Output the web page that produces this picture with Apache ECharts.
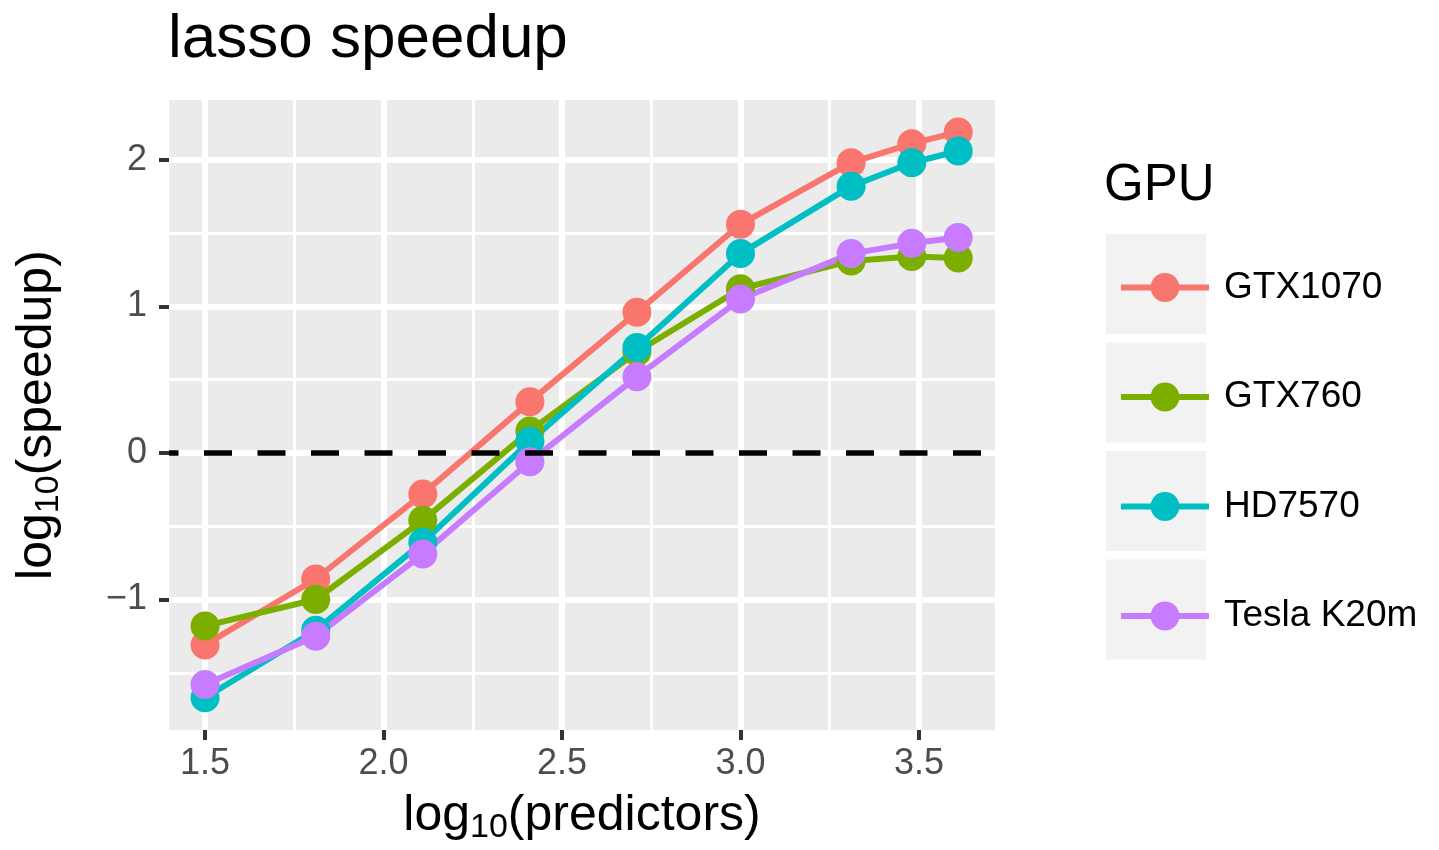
<!DOCTYPE html>
<html>
<head>
<meta charset="utf-8">
<script src="https://cdn.jsdelivr.net/npm/echarts@6/dist/echarts.min.js"></script>
<style>
  html, body { margin: 0; padding: 0; background: #fff; }
  #lasso_speedup { width: 1439px; height: 850px; }
</style>
</head>
<body>
<div id="lasso_speedup"></div>
<script>
    // log10(predictors)
    const predictors = [1.5, 1.81, 2.11, 2.41, 2.71, 3.0, 3.31, 3.48, 3.61];
    // log10(speedup) per GPU
    const gtx1070 = [-1.31, -0.86, -0.28, 0.35, 0.96, 1.56, 1.98, 2.11, 2.19];
    const gtx760 = [-1.18, -1.0, -0.46, 0.15, 0.69, 1.12, 1.31, 1.34, 1.33];
    const hd7570 = [-1.67, -1.21, -0.61, 0.08, 0.72, 1.36, 1.82, 1.98, 2.06];
    const teslaK20m = [-1.58, -1.25, -0.69, -0.06, 0.52, 1.05, 1.36, 1.43, 1.47];

    const gpuNames = ['GTX1070', 'GTX760', 'HD7570', 'Tesla K20m'];
    const gpuColors = ['#F8766D', '#7CAE00', '#00BFC4', '#C77CFF'];
    const gpuValues = [gtx1070, gtx760, hd7570, teslaK20m];

    const xTicks = [1.5, 2.0, 2.5, 3.0, 3.5];
    const xMinorTicks = [1.75, 2.25, 2.75, 3.25];
    const yTicks = [-1, 0, 1, 2];
    const yMinorTicks = [-1.5, -0.5, 0.5, 1.5];

    const xRange = [1.399, 3.713];
    const yRange = [-1.891, 2.408];

    const FONT = '"Liberation Sans", Arial, Helvetica, sans-serif';

    const chart = echarts.init(document.getElementById('lasso_speedup'));

    const series = gpuNames.map((name, i) => ({
        name: name,
        type: 'line',
        xAxisIndex: 0,
        yAxisIndex: 0,
        data: predictors.map((x, j) => [x, gpuValues[i][j]]),
        symbol: 'circle',
        symbolSize: 29,
        showSymbol: true,
        color: gpuColors[i],
        lineStyle: { width: 6, color: gpuColors[i] },
        itemStyle: { color: gpuColors[i] },
        emphasis: { disabled: true },
        animation: false
    }));

    // horizontal dashed reference line at 0
    series[0].markLine = {
        silent: true,
        symbol: 'none',
        label: { show: false },
        lineStyle: { color: '#000', width: 5.5, type: [28, 25.5], dashOffset: 18.5 },
        data: [{ yAxis: 0 }],
        animation: false
    };

    // grey key boxes behind legend entries
    const keyBoxes = gpuNames.map((n, i) => ({
        type: 'rect',
        left: 1106,
        top: 234 + i * 108.5,
        shape: { width: 100, height: 100 },
        style: { fill: '#F2F2F2' },
        z: -1
    }));

    const titleRich = {
        n: { fontFamily: FONT, fontSize: 50, color: '#000', lineHeight: 60 },
        s: { fontFamily: FONT, fontSize: 34, color: '#000', lineHeight: 60, padding: [24, 0, 0, 0] }
    };

    const option = {
        backgroundColor: '#fff',
        title: [
            {
                text: 'lasso speedup',
                left: 163,
                top: 4,
                textStyle: { fontFamily: FONT, fontSize: 62, fontWeight: 'normal', color: '#000' }
            },
            {
                text: 'GPU',
                left: 1099,
                top: 155,
                textStyle: { fontFamily: FONT, fontSize: 51, fontWeight: 'normal', color: '#000' }
            }
        ],
        graphic: keyBoxes,
        legend: {
            data: gpuNames,
            orient: 'vertical',
            left: 1113,
            top: 264,
            itemWidth: 88,
            itemHeight: 36,
            itemGap: 72.5,
            selectedMode: false,
            lineStyle: { width: 6 },
            textStyle: { fontFamily: FONT, fontSize: 37, color: '#000', lineHeight: 36, padding: [0, 0, 0, 10] }
        },
        grid: {
            left: 168,
            right: 444,
            top: 100,
            bottom: 118,
            show: true,
            backgroundColor: '#EBEBEB',
            borderWidth: 0,
            containLabel: false
        },
        xAxis: [
            {
                type: 'value',
                min: xRange[0],
                max: xRange[1],
                name: '{n|log}{s|10}{n|(predictors)}',
                nameLocation: 'middle',
                nameGap: 47,
                nameTextStyle: { rich: titleRich },
                axisLine: { show: false, onZero: false },
                axisTick: { show: true, customValues: xTicks, length: 10, lineStyle: { color: '#333', width: 4 } },
                axisLabel: {
                    customValues: xTicks,
                    margin: 16,
                    fontFamily: FONT,
                    fontSize: 36,
                    color: '#4D4D4D',
                    formatter: v => v.toFixed(1)
                },
                splitLine: { show: true, lineStyle: { color: '#fff', width: 6 } },
                z: 1
            },
            {
                type: 'value',
                min: xRange[0],
                max: xRange[1],
                gridIndex: 0,
                position: 'bottom',
                axisLine: { show: false, onZero: false },
                axisTick: { show: false, customValues: xMinorTicks },
                axisLabel: { show: false, customValues: xMinorTicks },
                splitLine: { show: true, lineStyle: { color: '#fff', width: 3 } },
                z: 0
            }
        ],
        yAxis: [
            {
                type: 'value',
                min: yRange[0],
                max: yRange[1],
                name: '{n|log}{s|10}{n|(speedup)}',
                nameLocation: 'middle',
                nameGap: 102,
                nameRotate: 90,
                nameTextStyle: { rich: titleRich },
                axisLine: { show: false, onZero: false },
                axisTick: { show: true, customValues: yTicks, length: 10, lineStyle: { color: '#333', width: 4 } },
                axisLabel: {
                    customValues: yTicks,
                    margin: 22,
                    fontFamily: FONT,
                    fontSize: 36,
                    color: '#4D4D4D',
                    formatter: v => (v < 0 ? '\u2212' + Math.abs(v) : String(v))
                },
                splitLine: { show: true, lineStyle: { color: '#fff', width: 6 } },
                z: 1
            },
            {
                type: 'value',
                min: yRange[0],
                max: yRange[1],
                gridIndex: 0,
                position: 'left',
                axisLine: { show: false, onZero: false },
                axisTick: { show: false, customValues: yMinorTicks },
                axisLabel: { show: false, customValues: yMinorTicks },
                splitLine: { show: true, lineStyle: { color: '#fff', width: 3 } },
                z: 0
            }
        ],
        series: series,
        animation: false
    };

    chart.setOption(option);
</script>
</body>
</html>
